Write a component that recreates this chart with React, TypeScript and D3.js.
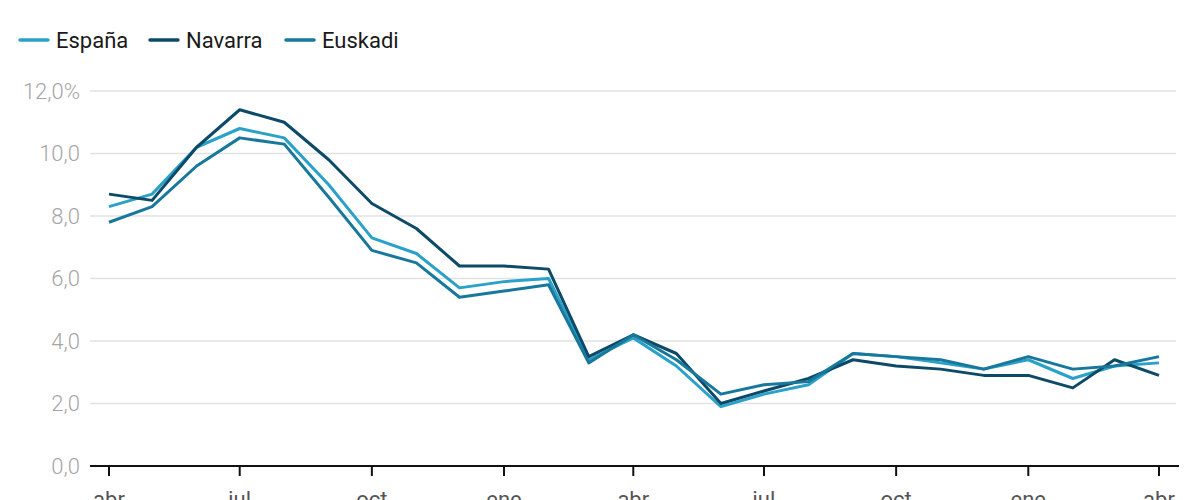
import { useEffect, useRef } from 'react';
import * as d3 from 'd3';

// monthly series, abr 2022 .. abr 2024
const months = [
  '2022-04', '2022-05', '2022-06', '2022-07', '2022-08', '2022-09', '2022-10', '2022-11', '2022-12',
  '2023-01', '2023-02', '2023-03', '2023-04', '2023-05', '2023-06', '2023-07', '2023-08', '2023-09',
  '2023-10', '2023-11', '2023-12', '2024-01', '2024-02', '2024-03', '2024-04',
];
const espana = [8.3, 8.7, 10.2, 10.8, 10.5, 9.0, 7.3, 6.8, 5.7, 5.9, 6.0, 3.4, 4.1, 3.2, 1.9, 2.3, 2.6, 3.6, 3.5, 3.3, 3.1, 3.4, 2.8, 3.2, 3.3];
const navarra = [8.7, 8.5, 10.2, 11.4, 11.0, 9.8, 8.4, 7.6, 6.4, 6.4, 6.3, 3.5, 4.2, 3.6, 2.0, 2.4, 2.8, 3.4, 3.2, 3.1, 2.9, 2.9, 2.5, 3.4, 2.9];
const euskadi = [7.8, 8.3, 9.6, 10.5, 10.3, 8.6, 6.9, 6.5, 5.4, 5.6, 5.8, 3.3, 4.2, 3.4, 2.3, 2.6, 2.7, 3.6, 3.5, 3.4, 3.1, 3.5, 3.1, 3.2, 3.5];

const seriesNames = ['España', 'Navarra', 'Euskadi'];
const seriesColors = ['#2aa1c8', '#0c4a67', '#18789c'];
const yTicks = [0, 2, 4, 6, 8, 10, 12];
const monthAbbr = ['ene', 'feb', 'mar', 'abr', 'may', 'jun', 'jul', 'ago', 'sep', 'oct', 'nov', 'dic'];

export default function App() {
  const ref = useRef<SVGSVGElement>(null);

  useEffect(() => {
    if (!ref.current) return;
    const svg = d3.select(ref.current);
    svg.selectAll('*').remove();

    const width = 1200;
    const height = 500;
    svg.attr('width', width).attr('height', height);

    const parse = d3.timeParse('%Y-%m');
    const dates = months.map((m) => parse(m)!);
    const all = [espana, navarra, euskadi];

    const x = d3
      .scaleTime()
      .domain([dates[0], dates[dates.length - 1]])
      .range([109, 1159]);
    const y = d3.scaleLinear().domain([0, 12]).range([466, 91]);

    // gridlines + y labels
    svg
      .selectAll('line.grid')
      .data(yTicks.filter((t) => t > 0))
      .enter()
      .append('line')
      .attr('x1', 90)
      .attr('x2', 1176)
      .attr('y1', (d) => y(d))
      .attr('y2', (d) => y(d))
      .attr('stroke', '#e3e1e4')
      .attr('stroke-width', 1.5);

    svg
      .selectAll('text.ytick')
      .data(yTicks)
      .enter()
      .append('text')
      .attr('x', 80)
      .attr('y', (d) => y(d))
      .attr('dy', '0.35em')
      .attr('text-anchor', 'end')
      .attr('fill', '#a6a4a7')
      .attr('font-family', 'Roboto, sans-serif')
      .attr('font-weight', 300)
      .attr('font-size', 22)
      .text((d) => d3.format('.1f')(d).replace('.', ',') + (d === 12 ? '%' : ''));

    // x axis
    svg
      .append('line')
      .attr('x1', 90)
      .attr('x2', 1179)
      .attr('y1', y(0))
      .attr('y2', y(0))
      .attr('stroke', '#111')
      .attr('stroke-width', 2);

    const tickDates = dates.filter((_, i) => i % 3 === 0);
    svg
      .selectAll('line.xtick')
      .data(tickDates)
      .enter()
      .append('line')
      .attr('x1', (d) => x(d))
      .attr('x2', (d) => x(d))
      .attr('y1', y(0))
      .attr('y2', y(0) + 10)
      .attr('stroke', '#111')
      .attr('stroke-width', 2);

    svg
      .selectAll('text.xtick')
      .data(tickDates)
      .enter()
      .append('text')
      .attr('x', (d) => x(d))
      .attr('y', 507)
      .attr('text-anchor', 'middle')
      .attr('fill', '#555')
      .attr('font-family', 'Roboto, sans-serif')
      .attr('font-size', 22)
      .text((d) => monthAbbr[d.getMonth()]);

    // lines
    const line = d3
      .line<number>()
      .x((_, i) => x(dates[i]))
      .y((d) => y(d));

    all.forEach((s, i) => {
      svg
        .append('path')
        .datum(s)
        .attr('d', line)
        .attr('fill', 'none')
        .attr('stroke', seriesColors[i])
        .attr('stroke-width', 3)
        .attr('stroke-linejoin', 'round');
    });

    // legend
    const legendX = [20, 150, 286];
    const leg = svg
      .selectAll('g.legend')
      .data(seriesNames)
      .enter()
      .append('g')
      .attr('transform', (_, i) => `translate(${legendX[i]},40)`);
    leg
      .append('line')
      .attr('x1', 0)
      .attr('x2', 28)
      .attr('stroke', (_, i) => seriesColors[i])
      .attr('stroke-width', 3.5)
      .attr('stroke-linecap', 'round');
    leg
      .append('text')
      .attr('x', 36)
      .attr('dy', '0.35em')
      .attr('fill', '#1a1a1a')
      .attr('font-family', 'Roboto, sans-serif')
      .attr('font-size', 22)
      .text((d) => d);
  }, []);

  return <svg ref={ref} style={{ position: 'absolute', left: 0, top: 0, background: '#fff' }} />;
}
